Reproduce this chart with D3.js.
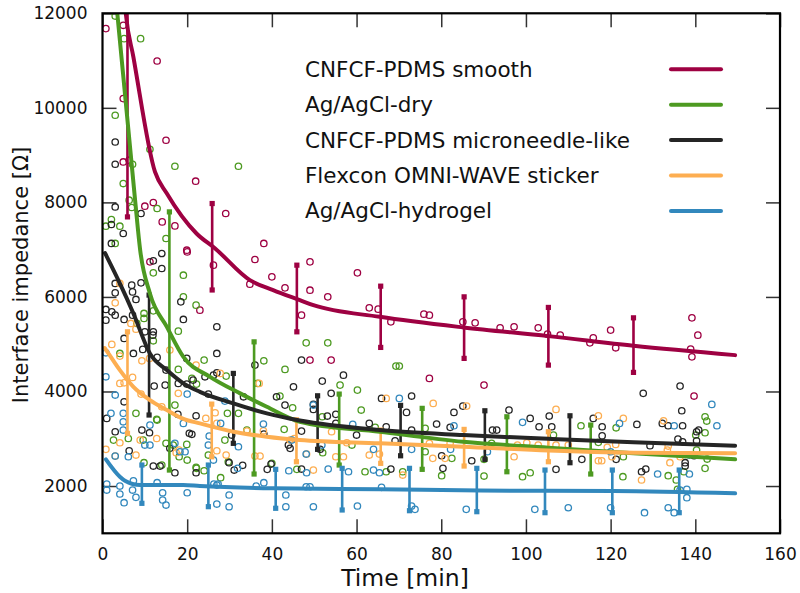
<!DOCTYPE html>
<html><head><meta charset="utf-8">
<script src="https://cdn.jsdelivr.net/npm/d3@7"></script>
<style>
body{margin:0;background:#fff}
svg{display:block}
text{font-family:"DejaVu Sans",Verdana,sans-serif;fill:#111}
</style>
</head><body>
<svg id="chart" width="800" height="593"></svg>
<script>
// ---------- data ----------
const seriesNames = ["CNFCF-PDMS smooth","Ag/AgCl-dry","CNFCF-PDMS microneedle-like","Flexcon OMNI-WAVE sticker","Ag/AgCl-hydrogel"];
const seriesColors = ["#9e0142","#4d9a21","#252525","#fdae51","#3288bd"];
const xTicks = [0,20,40,60,80,100,120,140,160];
const yTicks = [2000,4000,6000,8000,10000,12000];

// fitted curves [time, impedance]
const fitSmooth = [[5.0,12500],[5.5,11993],[7.3,11075],[12.4,8644],[15.2,8188],[22.2,7342],[26.6,7025],[34.8,6355],[40.3,6143],[46.6,5932],[49.8,5826],[65.5,5579],[85.2,5355],[105.3,5171],[125.4,4966],[149.4,4769]];
const fitDry = [[3.2,12300],[3.5,11993],[7.7,8046],[8.9,6989],[11.2,6074],[15.2,5368],[19.1,4733],[25.4,4310],[32.5,3960],[38.8,3676],[46.6,3360],[65.5,3148],[85.2,2936],[105.3,2810],[125.4,2691],[149.4,2564]];
const fitNeedle = [[0.6,6926],[4.1,6285],[7.3,5651],[11.2,4805],[15.2,4452],[19.1,4171],[23.0,3993],[30.9,3748],[38.8,3537],[46.6,3385],[65.5,3184],[85.2,3078],[105.3,2998],[125.4,2924],[149.4,2852]];
const fitFlexcon = [[0.5,4920],[1.4,4805],[4.1,4452],[7.3,4099],[11.2,3818],[15.2,3607],[19.1,3420],[23.0,3325],[30.9,3148],[38.8,3042],[46.6,2972],[65.5,2903],[85.2,2831],[105.3,2750],[125.4,2704],[149.4,2691]];
const fitHydrogel = [[0.8,2564],[4.1,2197],[5.3,2112],[8.9,2021],[19.1,2021],[23.0,2000],[40.3,1951],[65.5,1930],[89.2,1905],[120.6,1894],[149.4,1845]];

// error bars [time, low, high]
const errSmooth = [[5.9,7693,12600],[25.9,6147,7976],[45.9,5262,6672],[65.7,4932,6228],[85.4,4700,6002],[105.3,4558,5778],[125.4,4404,5558]];
const errDry = [[15.8,2338,7799],[35.8,2254,5050],[55.9,2444,3945],[75.5,2353,3643],[95.5,2302,3465],[115.3,2254,3290]];
const errNeedle = [[11.0,3502,6039],[30.9,2903,4382],[50.8,2776,3909],[70.4,2640,3706],[90.3,2564,3592],[110.4,2493,3486]];
const errFlexcon = [[5.9,3114,5262],[25.8,2619,3733],[45.8,2514,3400],[65.7,2480,3184],[85.4,2423,3198],[105.3,2514,3148]];
const errHydrogel = [[9.3,1634,2444],[25.0,1563,2444],[40.9,1529,2353],[56.6,1493,2374],[72.5,1478,2374],[88.4,1457,2374],[104.5,1436,2338],[120.4,1436,2338],[136.2,1436,2338]];

// raw measurements [time, impedance]
const ptsSmooth = [[0.8,11676],[4.9,11746],[4.9,10196],[12.9,10991],[15.0,9314],[4.9,8856],[6.3,8892],[22.0,8448],[12.0,7997],[10.0,7919],[29.1,7765],[14.1,7587],[17.1,7503],[38.1,7131],[19.9,6989],[11.2,6742],[20.0,6953],[26.2,6672],[36.0,6792],[34.8,6270],[40.0,6425],[43.1,6192],[23.0,5721],[49.0,6742],[60.2,6509],[49.0,6143],[53.2,6002],[47.0,5615],[63.0,5769],[65.1,5742],[68.1,5473],[75.9,5636],[77.2,5615],[49.0,4664],[54.0,4664],[77.2,4277],[85.1,5473],[88.0,5452],[90.1,4135],[93.9,5346],[97.2,5368],[102.9,5346],[105.1,5213],[108.1,5192],[115.1,5029],[115.9,5135],[120.0,5298],[121.2,4924],[139.2,5558],[140.6,5192],[138.9,4896],[139.2,4733],[139.7,3903]];
const ptsDry = [[3.0,11942],[5.1,11464],[9.0,11464],[3.0,9843],[11.2,9124],[7.1,8807],[17.1,8765],[32.1,8765],[4.9,8399],[6.3,8046],[6.9,7892],[12.9,7871],[0.8,7496],[4.1,7496],[2.1,7638],[15.0,7236],[3.0,7131],[12.0,6509],[19.1,6460],[19.1,6002],[22.1,5826],[17.9,5276],[9.8,5651],[9.8,5545],[12.0,5706],[12.0,5072],[4.1,4805],[8.1,5439],[24.0,4664],[29.2,4325],[38.1,4649],[43.1,4467],[17.9,4467],[21.1,4277],[22.2,4156],[17.1,3712],[7.9,3537],[12.8,3410],[29.5,3537],[32.1,3537],[34.1,3184],[41.9,3903],[44.9,3655],[42.9,3199],[36.6,4171],[2.6,2972],[6.1,3005],[9.6,2972],[12.9,3395],[15.0,2903],[16.7,2867],[18.1,2619],[19.9,2881],[20.0,2550],[22.2,2374],[9.8,2493],[14.0,2444],[28.9,2972],[25.0,2655],[22.1,2395],[24.0,2323],[27.9,2176],[29.7,2514],[40.0,2480],[45.9,2353],[48.1,5029],[53.2,5029],[69.3,4537],[70.1,4537],[56.1,4135],[60.2,4029],[61.1,3607],[51.9,3465],[52.0,2704],[58.9,2867],[62.0,2302],[64.4,3241],[67.0,2302],[70.9,2302],[76.2,3220],[76.2,2725],[80.1,2218],[82.5,2585],[90.1,2564],[90.1,2211],[91.9,2903],[99.2,2197],[101.0,2281],[113.0,3275],[121.3,3232],[123.0,2619],[122.9,2197],[117.1,2924],[142.3,3465],[142.7,3374],[142.3,3127],[140.1,3078],[140.3,2761],[142.8,2571],[142.3,2374],[135.5,2127],[133.6,2218],[137.3,2302],[135.8,1930],[106.5,3078]];
const ptsNeedle = [[3.0,9278],[3.0,8807],[3.0,7904],[9.1,7765],[2.1,7532],[4.9,7342],[2.1,7131],[14.0,6919],[12.0,6763],[14.0,6602],[3.0,6285],[6.9,6249],[9.1,6298],[3.0,6086],[7.1,6107],[7.9,5947],[0.8,5735],[0.8,5509],[2.2,5685],[3.0,5615],[5.1,5524],[7.1,5615],[5.1,5122],[10.0,5262],[12.0,5262],[11.9,5192],[9.5,4890],[7.3,4805],[12.9,4721],[15.0,4452],[19.9,4700],[18.5,5896],[19.1,5524],[27.0,5368],[27.0,4805],[17.9,4171],[19.9,4156],[21.4,4241],[24.2,4311],[26.2,4346],[27.0,4395],[25.0,3945],[12.2,4114],[14.8,4135],[5.1,3782],[33.3,3888],[36.0,4558],[41.1,3888],[45.1,4099],[43.1,3712],[3.0,3148],[9.3,3184],[11.1,3127],[21.1,3093],[22.1,3486],[1.0,3431],[6.3,2746],[12.0,2423],[13.6,2423],[17.8,3516],[15.9,2797],[17.1,2281],[20.5,3114],[22.1,2281],[30.5,3078],[29.9,2493],[31.1,2338],[33.1,2438],[38.9,2353],[39.8,2465],[43.9,2867],[44.3,2797],[38.1,3099],[47.0,4664],[56.9,4346],[51.9,4220],[54.0,3960],[49.8,3727],[49.8,3621],[53.1,3480],[55.1,3516],[55.1,3325],[47.0,3162],[47.0,2359],[51.4,2776],[60.0,3078],[63.0,3325],[65.9,3854],[67.0,3254],[69.1,2957],[68.1,2359],[71.8,3558],[73.0,3903],[73.0,3184],[78.9,3311],[80.1,2641],[80.4,2374],[83.0,3558],[85.1,3691],[82.1,3241],[87.2,2535],[92.1,3184],[93.1,3184],[96.0,3607],[101.0,3431],[103.1,3254],[105.5,3480],[106.1,3254],[115.9,3431],[118.0,3254],[118.0,3063],[113.2,2564],[107.1,2353],[127.7,3960],[126.2,3304],[121.3,2564],[127.3,2302],[128.3,2359],[129.3,2852],[132.2,3325],[133.6,3275],[136.4,4114],[136.8,3592],[137.0,3275],[135.9,2994],[137.0,2936],[137.6,2493],[137.6,2423],[140.3,3148],[140.8,3184],[140.3,2957],[139.7,2641]];
const ptsFlexcon = [[4.1,6285],[3.0,5875],[6.7,5439],[7.9,5319],[2.2,4996],[4.1,4748],[5.1,4184],[9.3,4649],[11.1,4700],[7.1,4298],[15.9,4875],[22.1,4558],[9.1,3945],[14.0,3676],[17.9,3960],[24.4,3431],[26.6,3550],[27.0,3325],[27.8,4382],[37.0,4171],[34.1,3162],[38.0,3169],[45.3,3005],[4.1,4171],[0.8,2776],[3.0,2634],[4.1,2915],[8.9,2972],[7.9,2655],[12.8,3005],[18.1,2761],[17.4,2704],[29.2,2655],[27.0,2746],[36.0,2634],[37.2,2634],[44.3,2972],[48.2,2676],[67.0,3854],[78.1,3748],[86.0,3691],[54.1,3148],[49.8,2338],[55.1,2619],[56.9,2619],[63.0,2655],[65.4,2676],[70.9,2232],[78.0,2585],[80.9,2585],[82.1,2903],[77.2,2903],[97.2,2619],[98.0,2867],[100.2,2915],[102.9,2867],[57.7,2915],[107.1,3621],[117.1,3486],[123.0,3431],[132.5,3380],[110.0,2867],[107.1,2867],[119.2,2818],[121.2,2881],[120.3,2619],[117.1,2535],[117.9,2535],[134.0,2493],[133.4,2761],[133.6,2846],[136.4,2619],[127.3,2127]];
const ptsHydrogel = [[3.0,3924],[2.0,3537],[4.9,3537],[11.2,3289],[4.9,3359],[4.9,3184],[6.1,2619],[3.0,2634],[10.0,2867],[11.2,2867],[18.3,2725],[19.5,2725],[1.0,2042],[1.0,1915],[4.1,2000],[4.1,1831],[7.3,2112],[7.1,1915],[7.9,1761],[5.1,1647],[12.9,2070],[14.2,1858],[14.2,1704],[15.0,1598],[20.0,1858],[19.1,3325],[0.8,4818],[0.8,4311],[20.0,3945],[25.2,3057],[28.9,3797],[27.9,3325],[32.1,2831],[38.0,3311],[44.7,2972],[17.1,2903],[25.0,2867],[26.2,2550],[31.9,2374],[26.3,2042],[27.3,2042],[29.9,1810],[27.0,1619],[29.9,1562],[38.1,2070],[36.3,2000],[43.3,1810],[43.3,1562],[44.0,2323],[48.2,2281],[49.8,3712],[51.8,2867],[48.1,2676],[53.3,2359],[58.1,2302],[59.1,3304],[70.1,3854],[64.0,2776],[64.0,2338],[65.4,2281],[73.0,2776],[73.8,1507],[49.8,1562],[60.2,1577],[48.1,1985],[49.0,1985],[65.9,1973],[83.0,3275],[82.2,2776],[85.9,1507],[90.9,2725],[99.2,3347],[102.1,1507],[110.0,1541],[120.0,1541],[120.0,2725],[122.1,3325],[128.0,1436],[131.1,2254],[133.6,1541],[135.0,3275],[138.6,2655],[138.6,2254],[138.0,1930],[138.0,1753],[135.0,1436],[143.9,3727],[145.1,3275],[27.0,2021],[73.0,1577],[136.4,1915]];

const fits = [fitSmooth, fitDry, fitNeedle, fitFlexcon, fitHydrogel];
const errs = [errSmooth, errDry, errNeedle, errFlexcon, errHydrogel];
const pts = [ptsSmooth, ptsDry, ptsNeedle, ptsFlexcon, ptsHydrogel];

// ---------- layout ----------
const svg = d3.select("#chart");
const L = 102.5, R = 780, T = 13.3, B = 533.3;
const x = d3.scaleLinear().domain([0,160]).range([L,R]);
const y = d3.scaleLinear().domain([1000,12000]).range([B,T]);

svg.append("defs").append("clipPath").attr("id","clip")
  .append("rect").attr("x",L).attr("y",T).attr("width",R-L).attr("height",B-T);

// axes (inner ticks on all four sides)
function styleAxis(g){
  g.select(".domain").remove();
  g.selectAll(".tick line").attr("stroke","#333").attr("stroke-width",1.5);
  g.selectAll("text").style("font-family","'DejaVu Sans',Verdana,sans-serif").attr("fill","#111");
}
svg.append("g").attr("transform",`translate(0,${B})`)
  .call(d3.axisBottom(x).tickValues(xTicks).tickSize(-14).tickPadding(14.6).tickFormat(d3.format("d")))
  .call(styleAxis).selectAll("text").style("font-size","17px");
svg.append("g").attr("transform",`translate(0,${T})`)
  .call(d3.axisTop(x).tickValues(xTicks).tickSize(-14).tickFormat(""))
  .call(styleAxis);
svg.append("g").attr("transform",`translate(${L},0)`)
  .call(d3.axisLeft(y).tickValues(yTicks).tickSize(-14).tickPadding(15).tickFormat(d3.format("d")))
  .call(styleAxis).selectAll("text").style("font-size","17px");
svg.append("g").attr("transform",`translate(${R},0)`)
  .call(d3.axisRight(y).tickValues(yTicks).tickSize(-14).tickFormat(""))
  .call(styleAxis);

const plot = svg.append("g").attr("clip-path","url(#clip)");

// scatter points
pts.forEach((p,i)=>{
  plot.append("g").selectAll("circle").data(p).join("circle")
    .attr("cx",d=>x(d[0])).attr("cy",d=>y(d[1])).attr("r",3.2)
    .attr("fill","none").attr("stroke",seriesColors[i]).attr("stroke-width",1.3);
});

// error bars
errs.forEach((e,i)=>{
  const g = plot.append("g").attr("fill",seriesColors[i]).attr("stroke",seriesColors[i]);
  g.selectAll("line").data(e).join("line")
    .attr("x1",d=>x(d[0])).attr("x2",d=>x(d[0]))
    .attr("y1",d=>y(d[1])).attr("y2",d=>y(d[2])).attr("stroke-width",2.6);
  const caps = e.flatMap(d=>[[d[0],d[1]],[d[0],d[2]]]);
  g.selectAll("rect").data(caps).join("rect")
    .attr("x",d=>x(d[0])-2.6).attr("y",d=>y(d[1])-2.6).attr("width",5.2).attr("height",5.2).attr("stroke","none");
});

// fitted lines
const line = d3.line().x(d=>x(d[0])).y(d=>y(d[1])).curve(d3.curveMonotoneX);
fits.forEach((f,i)=>{
  plot.append("path").datum(f).attr("d",line).attr("fill","none")
    .attr("stroke",seriesColors[i]).attr("stroke-width",4).attr("stroke-linejoin","round").attr("stroke-linecap","round");
});

// border
svg.append("rect").attr("x",L).attr("y",T).attr("width",R-L).attr("height",B-T)
  .attr("fill","none").attr("stroke","#000").attr("stroke-width",2.2);

// axis titles
svg.append("text").attr("x",405).attr("y",586).attr("text-anchor","middle")
  .style("font-size","23.5px").text("Time [min]");
svg.append("text").attr("transform","translate(28,275) rotate(-90)").attr("text-anchor","middle")
  .style("font-size","21px").text("Interface impedance [Ω]");

// legend
const leg = svg.append("g");
seriesNames.forEach((n,i)=>{
  const ly = 69.3 + i*35.4;
  leg.append("text").attr("x",305).attr("y",ly+7.5).style("font-size","21.5px").text(n);
  leg.append("line").attr("x1",671).attr("x2",721).attr("y1",ly).attr("y2",ly)
    .attr("stroke",seriesColors[i]).attr("stroke-width",4).attr("stroke-linecap","round");
});
</script>
</body></html>
